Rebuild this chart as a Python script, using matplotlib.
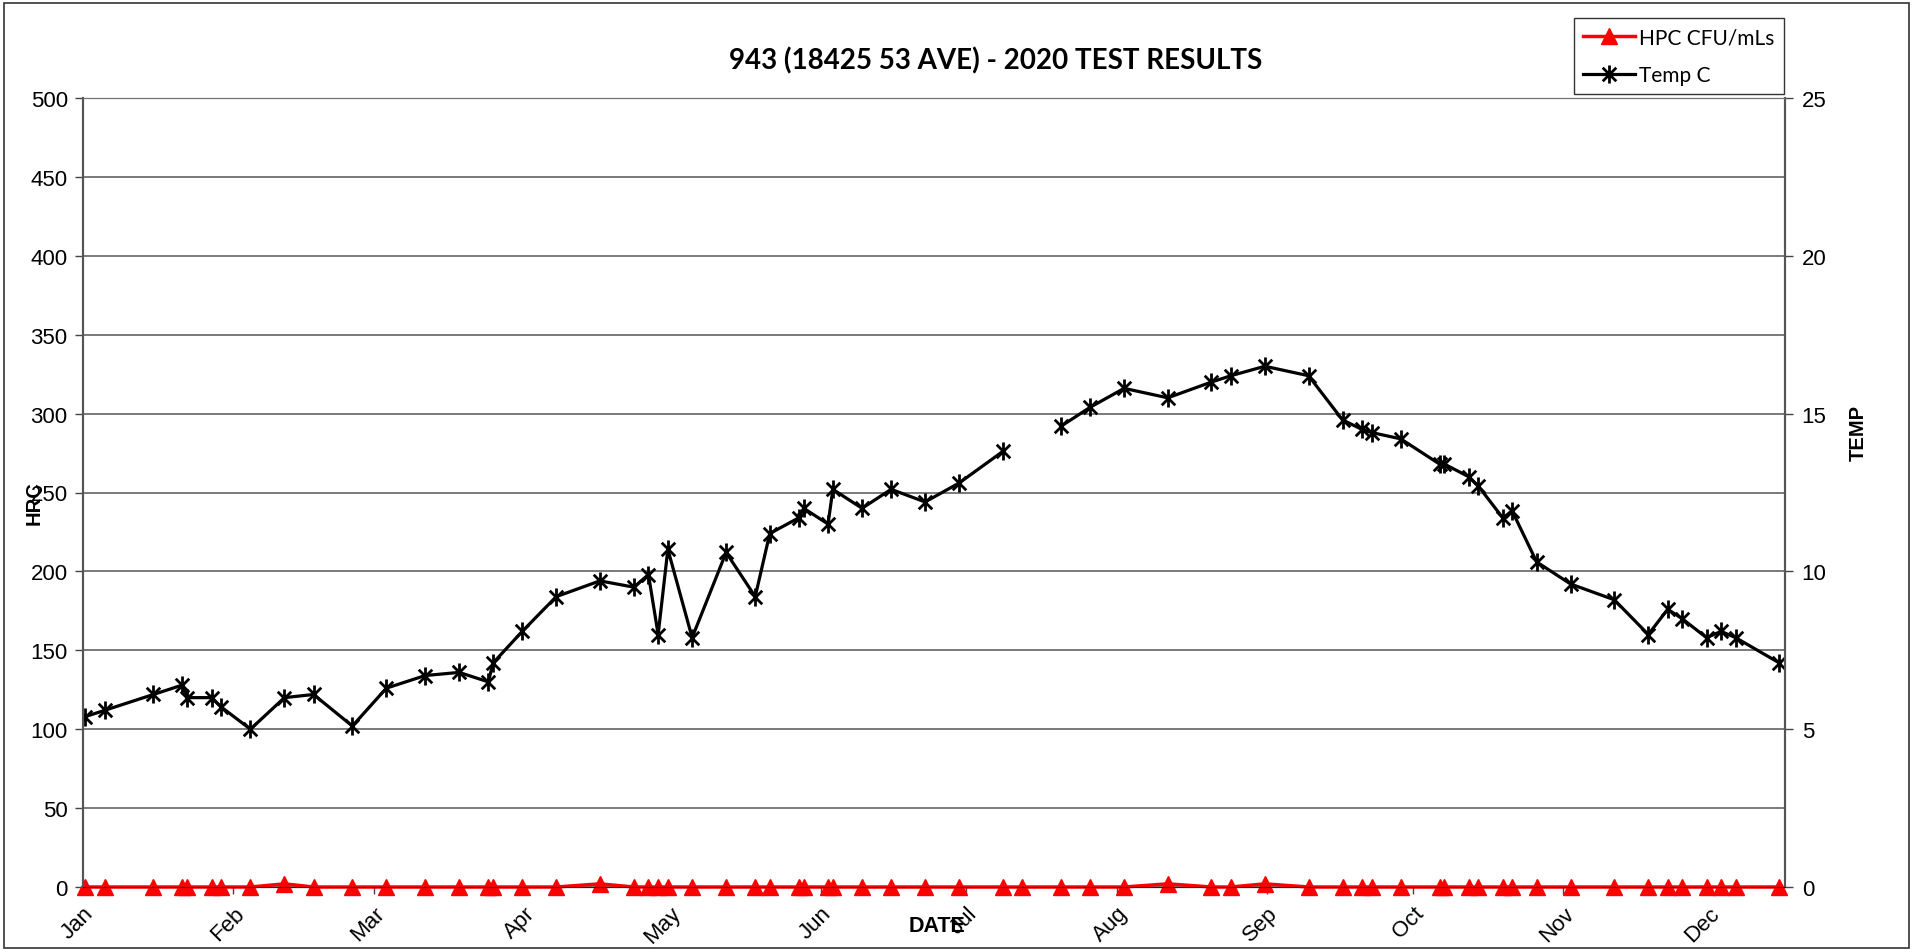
import numpy as np
import pandas as pd
import matplotlib
matplotlib.use('Agg')
import matplotlib.pyplot as plt
import matplotlib.dates as mdates
from matplotlib.path import Path
from matplotlib.patches import Rectangle

# sample dates (2020)
dates = ['2020-01-01', '2020-01-05', '2020-01-15', '2020-01-21', '2020-01-22', '2020-01-27',
         '2020-01-29', '2020-02-04', '2020-02-11', '2020-02-17', '2020-02-25', '2020-03-03',
         '2020-03-11', '2020-03-18', '2020-03-24', '2020-03-25', '2020-03-31', '2020-04-07',
         '2020-04-16', '2020-04-23', '2020-04-26', '2020-04-28', '2020-04-30', '2020-05-05',
         '2020-05-12', '2020-05-18', '2020-05-21', '2020-05-27', '2020-05-28', '2020-06-02',
         '2020-06-03', '2020-06-09', '2020-06-15', '2020-06-22', '2020-06-29', '2020-07-08',
         '2020-07-12', '2020-07-20', '2020-07-26', '2020-08-02', '2020-08-11', '2020-08-20',
         '2020-08-24', '2020-08-31', '2020-09-09', '2020-09-16', '2020-09-20', '2020-09-22',
         '2020-09-28', '2020-10-06', '2020-10-07', '2020-10-12', '2020-10-14', '2020-10-19',
         '2020-10-21', '2020-10-26', '2020-11-02', '2020-11-11', '2020-11-18', '2020-11-22',
         '2020-11-25', '2020-11-30', '2020-12-03', '2020-12-06', '2020-12-15']

temp_c = [5.4, 5.6, 6.1, 6.4, 6.0, 6.0, 5.7, 5.0, 6.0, 6.1, 5.1, 6.3,
          6.7, 6.8, 6.5, 7.1, 8.1, 9.2, 9.7, 9.5, 9.9, 8.0, 10.7, 7.9,
          10.6, 9.2, 11.2, 11.7, 12.0, 11.5, 12.6, 12.0, 12.6, 12.2, 12.8, 13.8,
          np.nan, 14.6, 15.2, 15.8, 15.5, 16.0, 16.2, 16.5, 16.2, 14.8, 14.5, 14.4,
          14.2, 13.4, 13.4, 13.0, 12.7, 11.7, 11.9, 10.3, 9.6, 9.1, 8.0, 8.8,
          8.5, 7.9, 8.1, 7.9, 7.1]

hpc = [0, 0, 0, 0, 0, 0, 0, 0, 2, 0, 0, 0,
       0, 0, 0, 0, 0, 0, 2, 0, 0, 0, 0, 0,
       0, 0, 0, 0, 0, 0, 0, 0, 0, 0, 0, 0,
       0, 0, 0, 0, 2, 0, 0, 2, 0, 0, 0, 0,
       0, 0, 0, 0, 0, 0, 0, 0, 0, 0, 0, 0,
       0, 0, 0, 0, 0]

hrc_ticks = list(range(0, 501, 50))
temp_ticks = list(range(0, 26, 5))

x = pd.to_datetime(dates) + pd.Timedelta(hours=12)

# excel style asterisk marker
star = Path([(0, -1), (0, 1), (-0.75, -0.75), (0.75, 0.75), (-0.75, 0.75), (0.75, -0.75)],
            [Path.MOVETO, Path.LINETO, Path.MOVETO, Path.LINETO, Path.MOVETO, Path.LINETO])

fig = plt.figure(figsize=(19.13, 9.53), dpi=100)
ax = fig.add_axes([83 / 1913, 1 - 888 / 953, (1785 - 83) / 1913, (888 - 99) / 953])
ax2 = ax.twinx()

tick_font = {'family': 'Liberation Sans', 'size': 16}

ax.set_ylim(0, 500)
ax.set_yticks(hrc_ticks)
ax.set_yticklabels([str(t) for t in hrc_ticks], fontdict=tick_font)
ax.grid(axis='y', color='#707070', linewidth=1.3)
ax.set_axisbelow(True)
ax.tick_params(axis='y', direction='out', length=6, width=1, color='#444444', pad=5)

ax.set_xlim(pd.Timestamp('2020-01-01'), pd.Timestamp('2020-12-16 16:00'))
ax.xaxis.set_major_locator(mdates.MonthLocator())
ax.xaxis.set_major_formatter(mdates.DateFormatter('%b'))
ax.tick_params(axis='x', direction='out', length=5, width=1, color='#444444', pad=6)
for lbl in ax.get_xticklabels():
    lbl.set_fontfamily('Liberation Sans')
    lbl.set_fontsize(16)
    lbl.set_rotation(45)
    lbl.set_ha('right')
    lbl.set_va('top')
    lbl.set_rotation_mode('anchor')

ax2.set_ylim(0, 25)
ax2.set_yticks(temp_ticks)
ax2.set_yticklabels([str(t) for t in temp_ticks], fontdict=tick_font)
ax2.tick_params(axis='y', direction='out', length=6, width=1, color='#444444', pad=6)

for a in (ax, ax2):
    a.spines['top'].set_color('#707070')
    a.spines['left'].set_color('#555555')
    a.spines['right'].set_color('#555555')
    a.spines['bottom'].set_color('#222222')
    a.spines['left'].set_linewidth(1.5)
    a.spines['right'].set_linewidth(1.5)

h1, = ax.plot(x, hpc, color='#ff0000', linewidth=2.5, marker='^', markersize=11,
              markeredgecolor='#ff0000', clip_on=False, zorder=3, label='HPC CFU/mLs')
h2, = ax2.plot(x, temp_c, color='black', linewidth=2.3, marker=star, markersize=13,
               markeredgewidth=2.0, markerfacecolor='none', markeredgecolor='black',
               label='Temp C')

fig.text(996 / 1913, 1 - 61 / 953, '943 (18425 53 AVE) - 2020 TEST RESULTS',
         fontfamily='Lato', fontweight='bold', fontsize=20, ha='center', va='center')
fig.text(34 / 1913, 1 - 503 / 953, 'HRC', fontfamily='Liberation Sans', fontweight='bold',
         fontsize=14.5, rotation=90, ha='center', va='center')
fig.text(1858 / 1913, 1 - 433 / 953, 'TEMP', fontfamily='Liberation Sans', fontweight='bold',
         fontsize=14.5, rotation=90, ha='center', va='center')
fig.text(937 / 1913, 1 - 927 / 953, 'DATE', fontfamily='Liberation Sans', fontweight='bold',
         fontsize=15.5, ha='center', va='center')

leg = fig.legend(handles=[h1, h2], loc='upper right', bbox_to_anchor=(1784 / 1913, 1 - 19 / 953),
                 prop={'family': 'Lato', 'size': 15}, frameon=True, fancybox=False,
                 edgecolor='black', handlelength=2.5, borderpad=0.45, labelspacing=0.85,
                 handletextpad=0.2, borderaxespad=0)
leg.get_frame().set_linewidth(1.0)

fig.patches.append(Rectangle((4 / 1913, 4 / 953), 1 - 8 / 1913, 1 - 8 / 953,
                             transform=fig.transFigure, fill=False, edgecolor='#333333',
                             linewidth=1.2))

fig.savefig('out.png', dpi=100)
